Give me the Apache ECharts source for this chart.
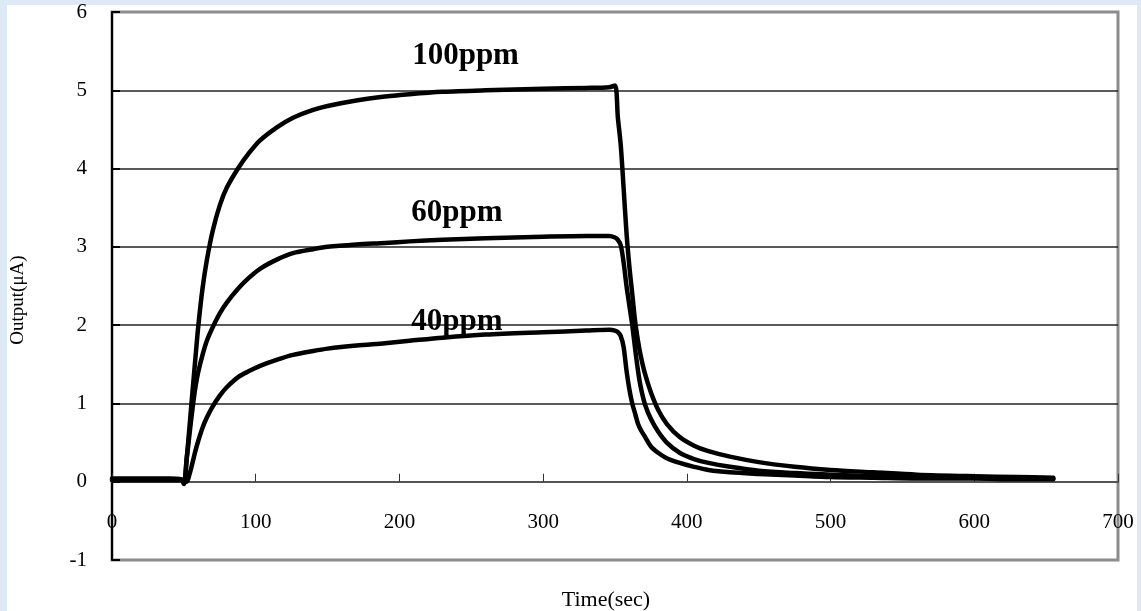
<!DOCTYPE html>
<html>
<head>
<meta charset="utf-8">
<script src="https://cdn.jsdelivr.net/npm/echarts@6/dist/echarts.min.js"></script>
<style>
html,body{margin:0;padding:0;width:1141px;height:611px;background:#dde9f5;overflow:hidden;}
#paper{position:absolute;left:7px;top:5px;width:1130px;height:606px;background:#ffffff;}
#chart{position:absolute;left:0;top:0;width:1141px;height:611px;}
</style>
</head>
<body>
<div id="paper"></div>
<div id="chart"></div>
<script>
// Time axis (sec), shared by all series
const times = [0, 10, 20, 30, 40, 48, 50, 52, 54, 56, 58, 60, 63, 66, 70, 75, 80, 88, 95, 103, 115, 126, 140, 150, 170, 190, 207, 230, 260, 300, 330, 346, 350, 352, 354, 356, 358, 360, 362, 364, 366, 368, 371, 375, 380, 386, 395, 405, 415, 430, 450, 475, 500, 530, 560, 600, 630, 655];

// Output (uA) for each concentration
const ppm100 = [0.04, 0.04, 0.04, 0.04, 0.04, 0.03, -0.03, 0.3, 0.72, 1.15, 1.57, 1.98, 2.47, 2.83, 3.2, 3.53, 3.76, 4.01, 4.19, 4.36, 4.53, 4.65, 4.75, 4.8, 4.87, 4.92, 4.95, 4.98, 5.0, 5.02, 5.03, 5.04, 5.06, 4.65, 4.3, 3.75, 3.18, 2.75, 2.4, 2.05, 1.8, 1.6, 1.37, 1.14, 0.92, 0.74, 0.57, 0.46, 0.39, 0.32, 0.25, 0.19, 0.15, 0.12, 0.09, 0.07, 0.06, 0.05];
const ppm60  = [0.03, 0.03, 0.03, 0.03, 0.03, 0.03, 0.0, 0.3, 0.62, 0.93, 1.2, 1.4, 1.62, 1.8, 1.97, 2.15, 2.29, 2.47, 2.6, 2.72, 2.84, 2.92, 2.97, 3.0, 3.03, 3.05, 3.07, 3.09, 3.11, 3.13, 3.14, 3.14, 3.12, 3.09, 3.02, 2.8, 2.5, 2.25, 2.0, 1.7, 1.42, 1.2, 0.98, 0.8, 0.64, 0.5, 0.37, 0.29, 0.24, 0.19, 0.14, 0.11, 0.09, 0.07, 0.06, 0.05, 0.04, 0.04];
const ppm40  = [0.02, 0.02, 0.02, 0.02, 0.02, 0.02, 0.02, 0.0, 0.1, 0.24, 0.39, 0.52, 0.69, 0.82, 0.96, 1.1, 1.21, 1.34, 1.41, 1.48, 1.56, 1.62, 1.67, 1.7, 1.74, 1.77, 1.8, 1.84, 1.88, 1.91, 1.93, 1.94, 1.93, 1.91, 1.86, 1.72, 1.42, 1.18, 1.0, 0.87, 0.74, 0.66, 0.57, 0.45, 0.37, 0.3, 0.24, 0.19, 0.15, 0.12, 0.1, 0.08, 0.06, 0.05, 0.04, 0.04, 0.03, 0.03];

const seriesNames = ['100ppm', '60ppm', '40ppm'];
const seriesValues = [ppm100, ppm60, ppm40];

// Annotation anchor positions (data space)
const labelTimes = [246, 240, 240];
const labelValues = [5.44, 3.43, 2.04];

const xTicks = [0, 100, 200, 300, 400, 500, 600, 700];
const yTicks = [-1, 0, 1, 2, 3, 4, 5, 6];

const serif = "'Liberation Serif', 'Times New Roman', serif";

const chart = echarts.init(document.getElementById('chart'), null, {renderer: 'canvas'});

const series = seriesNames.map((name, i) => ({
  name: name,
  type: 'line',
  data: times.map((t, k) => [t, seriesValues[i][k]]),
  showSymbol: false,
  symbol: 'none',
  smooth: 0.3,
  lineStyle: {color: '#000', width: 4.5, cap: 'round', join: 'round'},
  z: 5,
  markPoint: {
    symbol: 'circle',
    symbolSize: 1,
    itemStyle: {color: 'rgba(0,0,0,0)'},
    label: {
      show: true,
      position: 'inside',
      formatter: name,
      color: '#000',
      fontFamily: serif,
      fontWeight: 'bold',
      fontSize: 31
    },
    data: [{coord: [labelTimes[i], labelValues[i]]}]
  }
}));

chart.setOption({
  animation: false,
  grid: {
    left: 112, right: 23, top: 12, bottom: 51,
    show: true, borderColor: '#8c8c8c', borderWidth: 3, backgroundColor: 'transparent'
  },
  xAxis: {
    type: 'value', min: xTicks[0], max: xTicks[xTicks.length - 1], interval: 100,
    axisLine: {onZero: true, lineStyle: {color: '#555', width: 2}},
    axisTick: {show: true, inside: true, length: 8, lineStyle: {color: '#333', width: 1}},
    axisLabel: {color: '#000', fontFamily: serif, fontSize: 21, margin: -48,
      formatter: v => String(v)},
    splitLine: {show: false}
  },
  yAxis: {
    type: 'value', min: yTicks[0], max: yTicks[yTicks.length - 1], interval: 1,
    axisLine: {show: true, onZero: false, lineStyle: {color: '#000', width: 2}},
    axisTick: {show: true, inside: true, length: 8, lineStyle: {color: '#000', width: 2}},
    axisLabel: {color: '#000', fontFamily: serif, fontSize: 21, margin: 25,
      formatter: v => String(v)},
    splitLine: {show: true, lineStyle: {color: ['#8c8c8c', '#555', '#222', '#222', '#222', '#222', '#222', '#8c8c8c'], width: 1.5}}
  },
  graphic: [
    {type: 'text', x: 18, y: 300, rotation: Math.PI / 2,
      style: {text: 'Output(μA)', fill: '#000', font: '19px ' + serif, textAlign: 'center', textVerticalAlign: 'middle'}},
    {type: 'text', x: 606, y: 600,
      style: {text: 'Time(sec)', fill: '#000', font: '22px ' + serif, textAlign: 'center', textVerticalAlign: 'middle'}}
  ],
  series: series
});
</script>
</body>
</html>
